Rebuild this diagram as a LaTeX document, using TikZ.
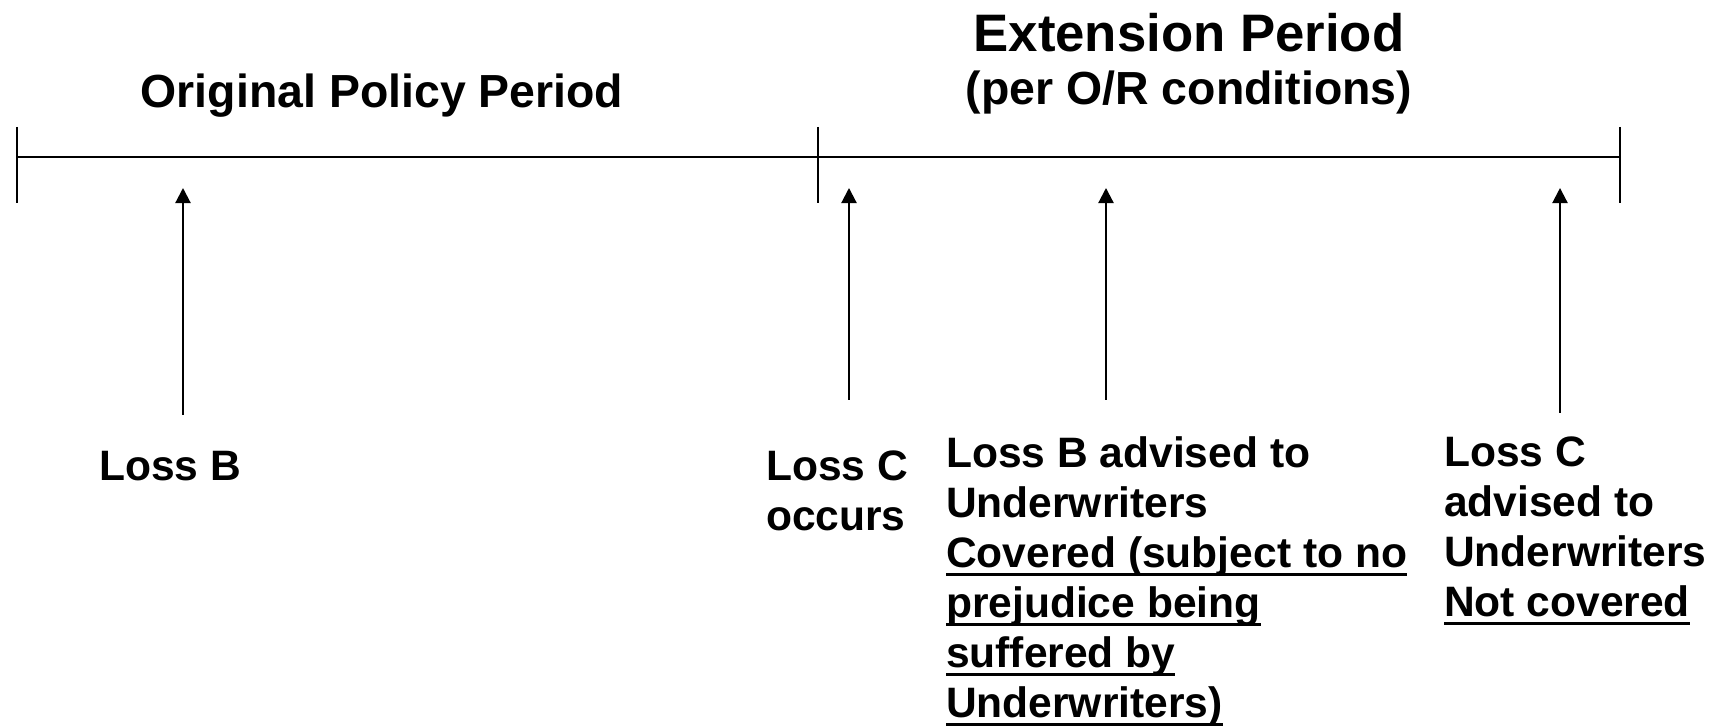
\documentclass[tikz,border=0pt]{standalone}
\usepackage{fontspec}
\setmainfont{Liberation Sans}
\usetikzlibrary{arrows.meta}
\newcommand{\undl}[1]{\sbox0{#1}\rlap{\rule[-2.45pt]{\wd0}{0.95pt}}\usebox0}
\tikzset{
  lbl/.style={font=\bfseries\fontsize{12.1}{14.2}\selectfont, inner sep=0pt, align=left},
  head/.style={font=\bfseries\fontsize{13.2}{15.1}\selectfont, inner sep=0pt, align=center},
  evt/.style={-{Triangle[length=4.3pt,width=4.3pt]}, line width=0.6pt}
}
\begin{document}
\begin{tikzpicture}[x=0.01cm, y=-0.01cm, line width=0.6pt]
\useasboundingbox (0,0) rectangle (1715,728);
\coordinate (T_0) at (17,157);
\coordinate (T_1) at (818,157);
\coordinate (T_2) at (1620,157);
\draw (T_0) -- (T_2);
\draw (17,127) -- (17,203);
\draw (818,127) -- (818,203);
\draw (1620,127) -- (1620,203);
\node[head, anchor=base] (orig) at (382,108) {Original Policy Period};
\node[head, anchor=north] (ext) at (1189,12) {{\fontsize{15}{15.1}\selectfont Extension Period}\\(per O/R conditions)};
\coordinate (A_0) at (183,188);
\coordinate (B_0) at (183,415);
\draw[evt] (B_0) -- (A_0);
\coordinate (A_1) at (849,188);
\coordinate (B_1) at (849,400);
\draw[evt] (B_1) -- (A_1);
\coordinate (A_2) at (1106,188);
\coordinate (B_2) at (1106,400);
\draw[evt] (B_2) -- (A_2);
\coordinate (A_3) at (1560,188);
\coordinate (B_3) at (1560,413);
\draw[evt] (B_3) -- (A_3);
\node[lbl, anchor=base west] (lossB) at (98,481) {Loss B};
\node[lbl, anchor=north west] (lossC) at (765,450) {Loss C\\occurs};
\node[lbl, anchor=north west] (advB) at (945,436) {Loss B advised to\\Underwriters\\\undl{Covered (subject to no}\\\undl{prejudice being}\\\undl{suffered by}\\\undl{Underwriters)}};
\node[lbl, anchor=north west] (advC) at (1443,436) {Loss C\\advised to\\Underwriters\\\undl{Not covered}};
\end{tikzpicture}
\end{document}
